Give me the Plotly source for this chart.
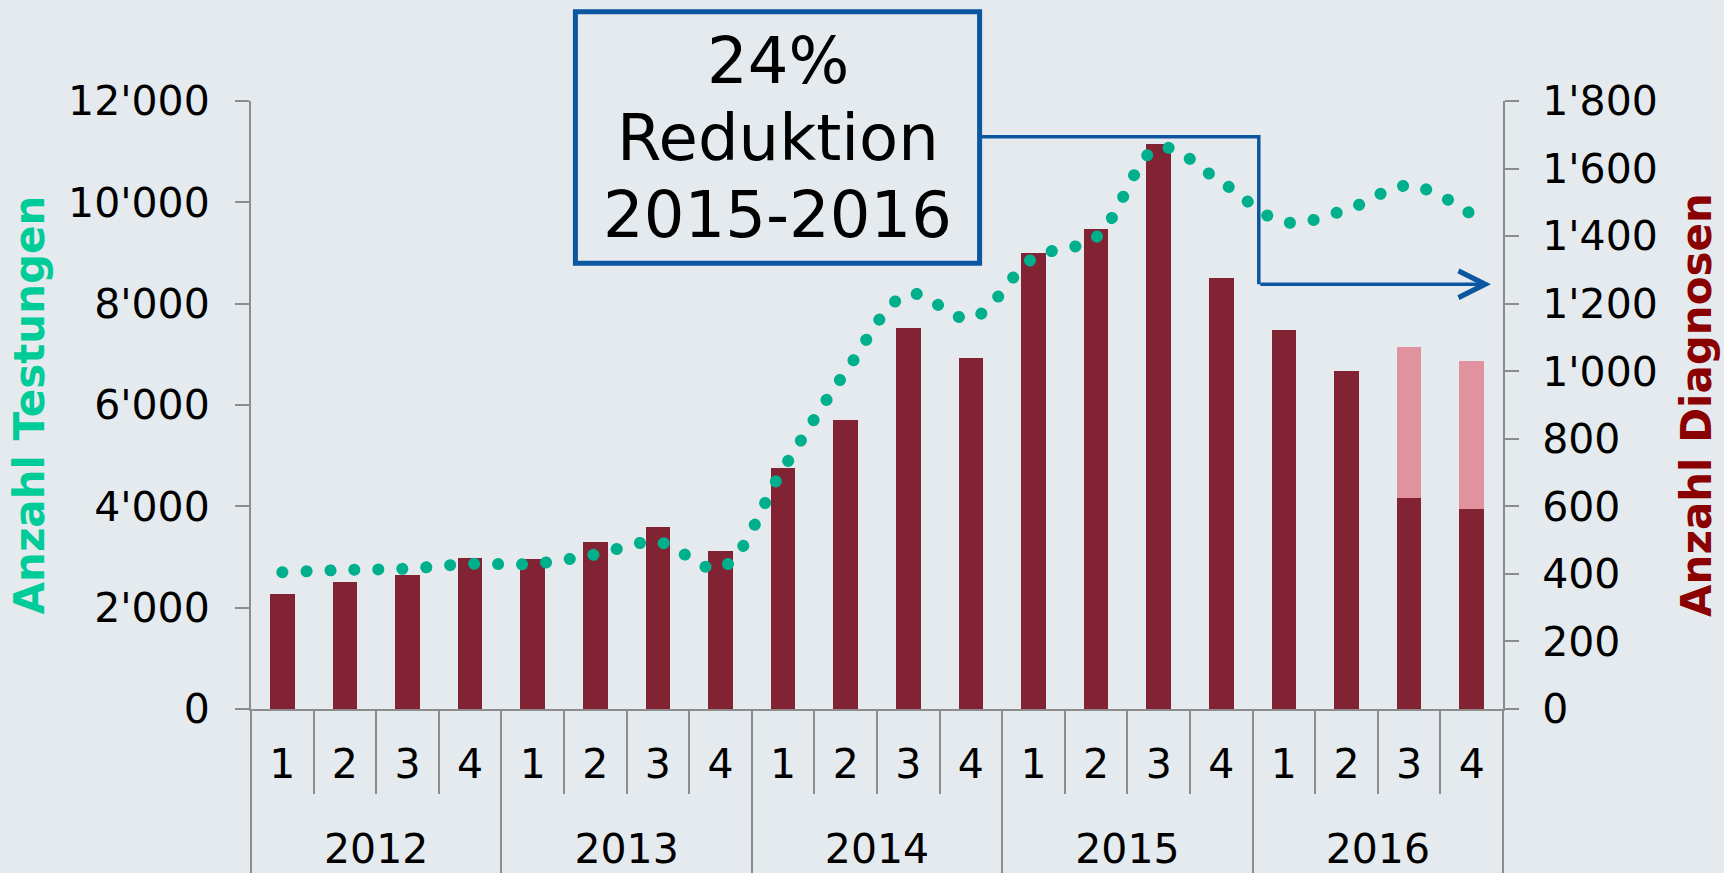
import plotly.graph_objects as go

# ---------------- data ----------------
years = ["2012", "2013", "2014", "2015", "2016"]
quarters = ["1", "2", "3", "4"]

# Anzahl Testungen (left axis), one value per quarter
testungen = [2700, 2745, 2770, 2865, 2865, 3050, 3295, 2780, 4740, 6655,
             8190, 7710, 8900, 9310, 11080, 10400, 9610, 9855, 10330, 9760]
# Anzahl Diagnosen (right axis) – reported
diagnosen = [341, 376, 397, 447, 444, 493, 539, 468, 714, 857,
             1128, 1039, 1350, 1422, 1674, 1277, 1123, 1000, 626, 593]
# additional (expected) diagnoses, light part of the 2016 bars
diagnosen_zusatz = [None, None, None, None, None, None, None, None, None, None,
                    None, None, None, None, None, None, None, None, 447, 436]

left_ticks = [0, 2000, 4000, 6000, 8000, 10000, 12000]
right_ticks = [0, 200, 400, 600, 800, 1000, 1200, 1400, 1600, 1800]
box_lines = ["24%", "Reduktion", "2015-2016"]

# ---------------- styles ----------------
BG = "#E4EAED"
BAR = "#822334"
BAR_LIGHT = "#E0939F"
DOTS = "#00B08C"
GREEN = "#00CC99"
DARKRED = "#8B0000"
BLUE = "#0A56A0"
AXIS = "#8C8C8C"
FONT = "DejaVu Sans"

W, H = 1724, 873
L, R, T, B = 251, 221, 101, 164
PW, PH = W - L - R, H - T - B


def px(x):
    return (x - L) / PW


def py(y):
    return (H - B - y) / PH


q_labels = [q for _ in years for q in quarters]
idx = list(range(len(q_labels)))
n_q = len(quarters)
year_centers = [i * n_q + (n_q - 1) / 2 for i in range(len(years))]
q_bounds = [i - 0.5 for i in range(len(q_labels) + 1)]
y_bounds = [i * n_q - 0.5 for i in range(len(years) + 1)]
xr = [-0.5, len(q_labels) - 0.5]

fig = go.Figure()

fig.add_trace(go.Bar(x=idx, y=diagnosen, marker=dict(color=BAR, line=dict(width=0)),
                     xaxis="x", yaxis="y", name="Diagnosen"))
fig.add_trace(go.Bar(x=idx, y=diagnosen_zusatz, marker=dict(color=BAR_LIGHT, line=dict(width=0)),
                     xaxis="x", yaxis="y", name="Diagnosen (erwartet)"))
fig.add_trace(go.Scatter(x=idx, y=testungen, mode="lines", xaxis="x", yaxis="y2",
                         line=dict(color=DOTS, width=12, shape="spline", smoothing=1,
                                   dash="12px,12px"),
                         name="Testungen"))
# invisible helper so that the year axis (x2) is rendered
fig.add_trace(go.Scatter(x=xr, y=[0, 0], mode="none", xaxis="x2", yaxis="y",
                         hoverinfo="skip", showlegend=False))

tickfont = dict(family=FONT, size=41, color="black")

fig.update_layout(
    width=W, height=H,
    margin=dict(l=L, r=R, t=T, b=B, pad=0, autoexpand=False),
    paper_bgcolor=BG, plot_bgcolor=BG,
    font=dict(family=FONT, color="black"),
    separators=".'",
    showlegend=False,
    barmode="stack",
    bargap=0.605,
    xaxis=dict(
        range=xr, tickmode="array", tickvals=idx, ticktext=q_labels,
        ticks="", showgrid=False, zeroline=False, automargin=False,
        showline=True, linecolor=AXIS, linewidth=2,
        tickfont=tickfont, ticklabelstandoff=18,
        minor=dict(tickmode="array", tickvals=q_bounds, ticks="outside",
                   ticklen=83, tickwidth=1.5, tickcolor=AXIS, showgrid=False),
        anchor="y",
    ),
    xaxis2=dict(
        range=xr, overlaying="x", anchor="y", side="bottom",
        tickmode="array", tickvals=year_centers, ticktext=years,
        ticks="", showgrid=False, zeroline=False, showline=False, automargin=False,
        tickfont=tickfont, ticklabelstandoff=112,
        minor=dict(tickmode="array", tickvals=y_bounds, ticks="outside",
                   ticklen=175, tickwidth=1.5, tickcolor=AXIS, showgrid=False),
    ),
    yaxis=dict(
        range=[0, 1800], tickmode="array", tickvals=right_ticks, tickformat=",d",
        side="right", anchor="x", automargin=False,
        ticks="outside", ticklen=14, tickwidth=2, tickcolor=AXIS,
        showline=True, linecolor=AXIS, linewidth=2,
        showgrid=False, zeroline=False,
        tickfont=tickfont, ticklabelstandoff=15,
        title=dict(text="<b>Anzahl Diagnosen</b>", font=dict(family=FONT, size=42, color=DARKRED),
                   standoff=25),
    ),
    yaxis2=dict(
        range=[0, 12000], tickmode="array", tickvals=left_ticks, tickformat=",d",
        side="left", overlaying="y", anchor="x", automargin=False,
        ticks="outside", ticklen=14, tickwidth=2, tickcolor=AXIS,
        showline=True, linecolor=AXIS, linewidth=2,
        showgrid=False, zeroline=False,
        tickfont=tickfont, ticklabelstandoff=17,
        title=dict(text="<b>Anzahl Testungen</b>", font=dict(family=FONT, size=42, color=GREEN),
                   standoff=10),
    ),
)

# annotation box
fig.add_shape(type="rect", xref="paper", yref="paper",
              x0=px(575.4), x1=px(979.6), y0=py(263.3), y1=py(11.7),
              line=dict(color=BLUE, width=5), fillcolor="rgba(0,0,0,0)")
for text, yc in zip(box_lines, [61.2, 138.3, 215.0]):
    fig.add_annotation(xref="paper", yref="paper", x=px(777.5), y=py(yc),
                       text=text, showarrow=False, xanchor="center", yanchor="middle",
                       font=dict(family=FONT, size=64, color="black"))

# elbow connector with arrow to the right axis
fig.add_shape(type="path", xref="paper", yref="paper",
              path=f"M {px(979.6)},{py(136.7)} H {px(1258.8)} V {py(284.3)}",
              line=dict(color=BLUE, width=3.5))
fig.add_annotation(xref="paper", yref="paper", x=px(1491), y=py(284.3),
                   ax=-(1491 - 1258.8), ay=0, text="", showarrow=True,
                   arrowhead=5, arrowsize=1.5, arrowwidth=3.5, arrowcolor=BLUE)

# round dots for the dotted line (Excel "round dot" style)
post = """
document.body.style.margin='0';
document.body.style.overflow='hidden';
document.querySelectorAll('.scatterlayer path.js-line').forEach(function(p){
  p.style.strokeLinecap='round';
  p.style.strokeDasharray='0.1px,23.9px';
});
"""
fig.write_html("out.html", config={"displayModeBar": False}, post_script=post)
